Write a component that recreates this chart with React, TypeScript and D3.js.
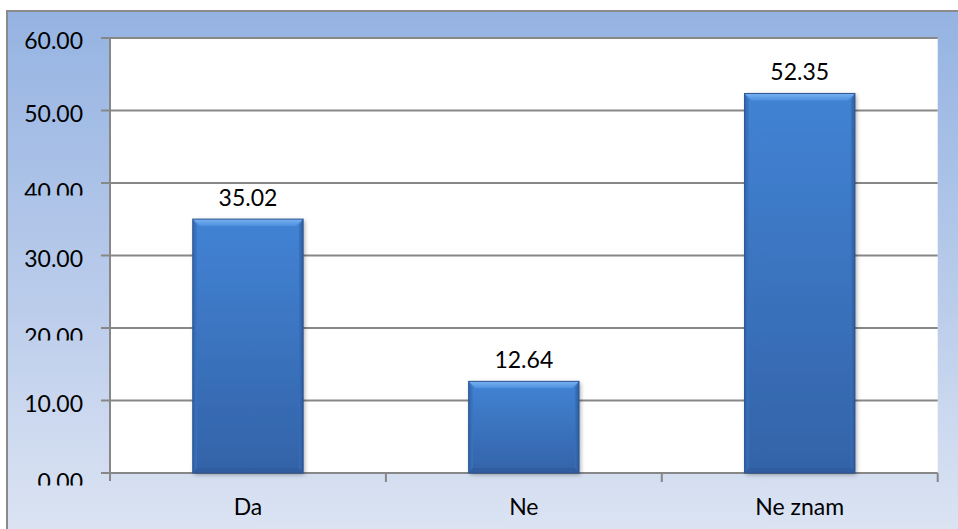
import * as d3 from 'd3'

// chart data
const categories = ['Da', 'Ne', 'Ne znam']
const values = [35.02, 12.64, 52.35]
const yTicks = [0, 10, 20, 30, 40, 50, 60]
// labels that appear cut off at the bottom in the original
const croppedTicks = [0, 20, 40]

const W = 958
const H = 529
const FONT = 'Lato, "Open Sans", sans-serif'

export default function App() {
  const plot = { left: 110, top: 38, right: 937.7, bottom: 473 }

  const x = d3.scaleBand<string>()
    .domain(categories)
    .range([plot.left, plot.right])
    .paddingInner(0.6)
    .paddingOuter(0.3)

  const xOuter = d3.scaleBand<string>()
    .domain(categories)
    .range([plot.left, plot.right])

  const y = d3.scaleLinear().domain([0, 60]).range([plot.bottom, plot.top])

  const bev = 7 // bevel size

  return (
    <svg width={W} height={H} style={{ position: 'absolute', left: 0, top: 0, display: 'block' }}>
      <defs>
        <linearGradient id="bg" x1="0" y1="0" x2="0" y2="1">
          <stop offset="0" stopColor="#95b3e2" />
          <stop offset="0.55" stopColor="#bccdeb" />
          <stop offset="1" stopColor="#e0e7f4" />
        </linearGradient>
        <linearGradient id="face" x1="0" y1="0" x2="0" y2="1">
          <stop offset="0" stopColor="#4283d4" />
          <stop offset="1" stopColor="#3363a8" />
        </linearGradient>
        <linearGradient id="topBev" x1="0" y1="0" x2="0" y2="1">
          <stop offset="0" stopColor="#79b2f2" />
          <stop offset="1" stopColor="#4d8fdd" />
        </linearGradient>
        <linearGradient id="leftBev" x1="0" y1="0" x2="1" y2="0">
          <stop offset="0" stopColor="#2f5fa6" />
          <stop offset="1" stopColor="#3a75c2" />
        </linearGradient>
        <linearGradient id="rightBev" x1="0" y1="0" x2="1" y2="0">
          <stop offset="0" stopColor="#3a72bc" />
          <stop offset="1" stopColor="#2b5596" />
        </linearGradient>
        <filter id="shadow" x="-20%" y="-20%" width="140%" height="140%">
          <feDropShadow dx="1.5" dy="1.5" stdDeviation="2" floodColor="#000" floodOpacity="0.35" />
        </filter>
        {croppedTicks.map(t => (
          <clipPath key={t} id={`clip${t}`}>
            <rect x={0} y={0} width={plot.left} height={y(t) + 12.5} />
          </clipPath>
        ))}
      </defs>

      {/* chart frame */}
      <rect x={7} y={11} width={W + 20} height={H + 20} fill="url(#bg)" stroke="#8a8a8a" strokeWidth={2} />

      {/* plot area */}
      <rect x={plot.left} y={plot.top} width={plot.right - plot.left} height={plot.bottom - plot.top} fill="#fff" />

      {/* gridlines */}
      {yTicks.map(t => (
        <line key={t} x1={plot.left - 9} x2={plot.right} y1={y(t)} y2={y(t)} stroke="#878787" strokeWidth={2} />
      ))}

      {/* y axis */}
      <line x1={plot.left} x2={plot.left} y1={plot.top} y2={plot.bottom + 8} stroke="#878787" strokeWidth={2} />

      {/* x category ticks */}
      {categories.map(c => (
        <line key={c} x1={(xOuter(c) as number) + xOuter.bandwidth()} x2={(xOuter(c) as number) + xOuter.bandwidth()}
          y1={plot.bottom} y2={plot.bottom + 9} stroke="#878787" strokeWidth={2} />
      ))}

      {/* y tick labels */}
      {yTicks.map(t => {
        const cropped = croppedTicks.includes(t)
        return (
          <text key={t} x={83} y={y(t) + (cropped ? 17 : 11)} textAnchor="end" fontFamily={FONT} fontSize={23}
            fill="#000" clipPath={cropped ? `url(#clip${t})` : undefined}>
            {t.toFixed(2)}
          </text>
        )
      })}

      {/* bars */}
      {categories.map((c, i) => {
        const x0 = x(c) as number
        const bw = x.bandwidth()
        const y0 = y(values[i])
        const y1 = y(0)
        return (
          <g key={c}>
            <g filter="url(#shadow)">
              <rect x={x0} y={y0} width={bw} height={y1 - y0} fill="url(#face)" />
            </g>
            <polygon points={`${x0},${y0} ${x0 + bw},${y0} ${x0 + bw - bev},${y0 + bev} ${x0 + bev},${y0 + bev}`} fill="url(#topBev)" />
            <polygon points={`${x0},${y0} ${x0 + bev * 0.6},${y0 + bev} ${x0 + bev * 0.6},${y1 - 5} ${x0},${y1}`} fill="url(#leftBev)" opacity={0.8} />
            <polygon points={`${x0 + bw},${y0} ${x0 + bw - bev * 0.6},${y0 + bev} ${x0 + bw - bev * 0.6},${y1 - 5} ${x0 + bw},${y1}`} fill="url(#rightBev)" opacity={0.8} />
            <polygon points={`${x0},${y1} ${x0 + bev * 0.6},${y1 - 5} ${x0 + bw - bev * 0.6},${y1 - 5} ${x0 + bw},${y1}`} fill="#2e5a9a" opacity={0.6} />
            <rect x={x0} y={y0} width={bw} height={y1 - y0} fill="none" stroke="#2d5592" strokeWidth={1} />
            <text x={x0 + bw / 2} y={y0 - 13} textAnchor="middle" fontFamily={FONT} fontSize={23} fill="#000">
              {values[i].toFixed(2)}
            </text>
          </g>
        )
      })}

      {/* category labels */}
      {categories.map(c => (
        <text key={c} x={(xOuter(c) as number) + xOuter.bandwidth() / 2} y={515} textAnchor="middle"
          fontFamily={FONT} fontSize={23} fill="#000">
          {c}
        </text>
      ))}
    </svg>
  )
}
